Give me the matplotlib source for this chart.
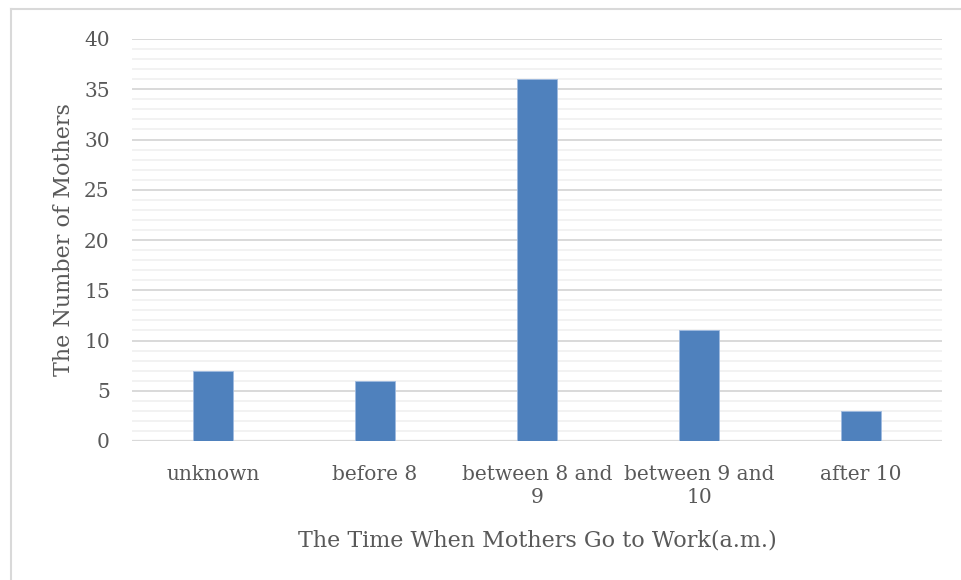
import matplotlib.pyplot as plt
from matplotlib.lines import Line2D
from matplotlib.ticker import MultipleLocator

categories = ['unknown', 'before 8', 'between 8 and\n9', 'between 9 and\n10', 'after 10']
mothers = [7, 6, 36, 11, 3]

plt.rcParams['font.family'] = ['DejaVu Serif']
text_color = '#595959'

W, H = 962, 580
fig = plt.figure(figsize=(W / 100, H / 100), dpi=100)
ax = fig.add_axes([132 / W, 1 - 441 / H, (942 - 132) / W, (441 - 39) / H])

x = range(len(categories))
ax.bar(x, mothers, width=0.25, color='#4f81bd', edgecolor='#9fbbe0', linewidth=0.6, zorder=3)

ax.set_xlim(-0.5, len(categories) - 0.5)
ax.set_ylim(0, 40)
ax.yaxis.set_major_locator(MultipleLocator(5))
ax.yaxis.set_minor_locator(MultipleLocator(1))
ax.grid(axis='y', which='major', color='#d9d9d9', linewidth=1.4, zorder=0)
ax.grid(axis='y', which='minor', color='#f2f2f2', linewidth=1.4, zorder=0)
ax.axhline(0, color='#d9d9d9', linewidth=1.6, zorder=2)

for s in ax.spines.values():
    s.set_visible(False)
ax.tick_params(axis='both', which='both', length=0, colors=text_color, labelsize=14.5)
ax.tick_params(axis='y', pad=16)
ax.tick_params(axis='x', pad=17)
ax.set_xticks(list(x))
ax.set_xticklabels(categories, linespacing=1.3)

ax.set_xlabel('The Time When Mothers Go to Work(a.m.)', fontsize=16, color=text_color, labelpad=16)
ax.set_ylabel('The Number of Mothers', fontsize=16, color=text_color, labelpad=6.5)

# frame edge of the surrounding chart box
fig.add_artist(Line2D([11 / W, 11 / W], [0, 1 - 9 / H], color='#d9d9d9', linewidth=1.5))
fig.add_artist(Line2D([11 / W, 1], [1 - 9 / H, 1 - 9 / H], color='#d9d9d9', linewidth=1.5))

fig.savefig('out.png', dpi=100)
